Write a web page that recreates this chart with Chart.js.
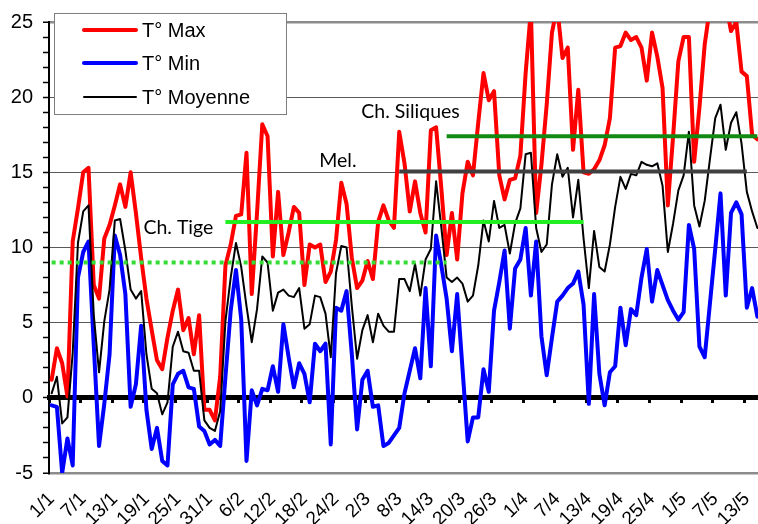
<!DOCTYPE html>
<html>
<head>
<meta charset="utf-8">
<script src="https://cdn.jsdelivr.net/npm/chart.js@4/dist/chart.umd.min.js"></script>
<style>
  html, body { margin: 0; padding: 0; background: #fff; overflow: hidden; }
  #wrap { width: 758px; height: 524px; overflow: hidden; position: relative; }
  canvas { display: block; }
</style>
</head>
<body>
<div id="wrap"><canvas id="c" width="760" height="524"></canvas></div>
<script>
// Daily categories: 1/1 .. 15/5 (non-leap year)
const monthLengths = [31, 28, 31, 30, 31];
const dayCount = 135;
const dayLabels = [];
for (let m = 0; m < monthLengths.length && dayLabels.length < dayCount; m++) {
  for (let d = 1; d <= monthLengths[m] && dayLabels.length < dayCount; d++) {
    dayLabels.push(d + '/' + (m + 1));
  }
}
const labelEvery = 6;

// Daily maximum temperature (°C)
const tMax = [
  1.2, 3.3, 2.3, 0.1, 10.4, 12.6, 15.0, 15.3, 7.5, 6.6,
  10.6, 11.5, 12.8, 14.2, 12.7, 15.0, 12.3, 9.3, 6.6, 4.5,
  2.5, 1.9, 4.0, 5.8, 7.2, 4.5, 5.3, 2.9, 5.5, -0.8,
  -0.8, -1.5, 1.4, 8.8, 10.2, 12.1, 12.2, 16.3, 6.9, 12.3,
  18.2, 17.4, 9.4, 13.7, 9.5, 11.0, 12.7, 12.3, 7.5, 10.2,
  10.0, 10.2, 7.7, 8.4, 10.5, 14.3, 12.9, 9.3, 7.3, 7.8,
  9.1, 7.9, 11.7, 12.8, 11.8, 11.3, 17.7, 15.6, 12.4, 14.4,
  12.3, 11.0, 17.8, 18.0, 13.9, 9.5, 12.3, 9.2, 13.6, 15.7,
  14.8, 18.3, 21.6, 19.8, 20.4, 14.8, 13.2, 14.5, 14.6, 16.1,
  21.6, 25.8, 12.3, 15.5, 19.5, 24.3, 26.0, 22.6, 23.3, 16.5,
  20.5, 15.0, 14.9, 15.2, 15.8, 16.8, 18.6, 23.3, 23.4, 24.3,
  23.8, 24.0, 23.3, 21.1, 24.3, 22.7, 20.6, 12.8, 17.4, 22.4,
  24.0, 24.0, 15.7, 19.3, 23.5, 26.0, 27.0, 25.4, 26.2, 24.4,
  25.0, 21.7, 21.4, 17.5, 17.2
];

// Daily minimum temperature (°C)
const tMin = [
  -0.5, -0.6, -5.0, -2.7, -4.5, 8.0, 9.7, 10.4, 3.5, -3.2,
  -0.4, 2.9, 10.8, 9.5, 6.9, -0.6, 0.9, 4.8, -0.8, -3.4,
  -2.0, -4.2, -4.5, 0.9, 1.6, 1.8, 0.7, 0.6, -1.9, -2.2,
  -3.1, -2.8, -3.2, 1.4, 5.8, 8.5, 5.2, -4.2, 0.5, -0.5,
  0.6, 0.5, 2.1, 0.4, 4.9, 2.7, 0.7, 2.3, 1.6, -0.3,
  3.6, 3.1, 3.6, -3.1, 6.0, 5.8, 7.1, 2.9, -2.1, 1.2,
  1.8, -0.6, -0.5, -3.2, -3.0, -2.5, -2.0, 0.3, 1.8, 3.3,
  1.3, 7.3, 2.1, 10.8, 8.8, 6.6, 3.1, 6.9, 2.0, -2.9,
  -1.3, -1.3, 1.9, 0.4, 5.8, 7.7, 9.8, 4.6, 8.6, 9.2,
  11.3, 6.8, 10.4, 4.1, 1.5, 4.0, 6.4, 6.8, 7.3, 7.6,
  8.4, 6.2, -0.4, 6.9, 1.6, -0.5, 1.7, 2.1, 6.0, 3.5,
  5.9, 5.5, 8.0, 9.9, 6.4, 8.5, 7.5, 6.5, 5.8, 5.2,
  5.7, 11.5, 9.9, 3.4, 2.7, 6.3, 9.9, 13.6, 6.8, 12.3,
  13.0, 12.2, 6.0, 7.3, 5.4
];

// Daily mean temperature (°C)
const tMoy = [
  0.3, 1.4, -1.7, -1.3, 3.0, 10.3, 12.4, 12.8, 5.5, 1.7,
  5.1, 7.2, 11.8, 11.9, 9.8, 7.2, 6.6, 7.1, 2.9, 0.6,
  0.3, -1.1, -0.3, 3.4, 4.4, 3.1, 3.0, 1.8, 1.8, -1.5,
  -2.0, -2.2, -0.9, 5.1, 8.0, 10.3, 8.7, 6.1, 3.7, 5.9,
  9.4, 9.0, 5.8, 7.0, 7.2, 6.8, 6.7, 7.3, 4.6, 4.9,
  6.8, 6.7, 5.6, 2.7, 8.3, 10.1, 10.0, 6.1, 2.6, 4.5,
  5.5, 3.7, 5.6, 4.8, 4.4, 4.4, 7.9, 7.9, 7.1, 8.9,
  6.8, 9.2, 9.9, 14.4, 11.3, 8.0, 7.7, 8.0, 7.6, 6.4,
  6.8, 8.8, 11.8, 10.4, 13.1, 11.3, 11.5, 9.6, 11.6, 12.6,
  16.2, 16.3, 11.3, 9.7, 10.2, 14.2, 16.2, 14.7, 15.3, 12.0,
  14.5, 10.6, 7.3, 11.1, 8.7, 8.4, 10.2, 12.7, 14.7, 13.9,
  14.9, 14.8, 15.7, 15.5, 15.4, 15.6, 14.1, 9.7, 11.6, 13.8,
  14.8, 17.7, 12.8, 11.4, 13.1, 15.9, 18.6, 19.5, 16.5, 18.3,
  19.0, 16.9, 13.7, 12.4, 11.3
];

// Crop stage reference levels (°C) and the day ranges they span
const phaseNames = ['', 'Ch. Tige', 'Mel.', 'Ch. Siliques'];
const phaseLevel = [9, 11.7, 15.05, 17.4];
const phaseFrom  = [0, 33, 66, 75];
const phaseTo    = [75, 101, 132, 134];

const yMin = -5, yMax = 25, yStep = 5;

// ---- styles ----
const FONT = '"Liberation Sans", Arial, sans-serif';
Chart.defaults.font.family = FONT;
Chart.defaults.color = '#000';

const phaseStyle = [
  { color: '#33dd33', dash: [4, 4] },
  { color: '#22ee22', dash: [], text: { at: 30.7, dy: 11.3, anchor: 'right' } },
  { color: '#404040', dash: [], text: { at: 50.8, dy: 15.8, anchor: 'left' } },
  { color: '#138a13', dash: [], text: { at: 58.8, dy: 19.0, anchor: 'left' } }
];

const phaseDatasets = phaseLevel.map((lvl, k) => ({
  label: phaseNames[k],
  data: dayLabels.map((_, i) => (i >= phaseFrom[k] && i <= phaseTo[k]) ? lvl : null),
  borderColor: phaseStyle[k].color,
  borderWidth: 4,
  borderDash: phaseStyle[k].dash,
  borderCapStyle: 'butt',
  pointRadius: 0,
  spanGaps: false,
  order: 0
}));

const seriesDatasets = [
  { label: 'T° Max', data: tMax, borderColor: '#ff0000', borderWidth: 4, order: 3 },
  { label: 'T° Min', data: tMin, borderColor: '#0000ff', borderWidth: 4, order: 2 },
  { label: 'T° Moyenne', data: tMoy, borderColor: '#000000', borderWidth: 2, order: 1 }
].map(d => Object.assign(d, {
  pointRadius: 0, tension: 0, borderJoinStyle: 'round', borderCapStyle: 'round', clip: 0
}));

// Framed legend inside the plot, top-left
const legendBox = {
  id: 'legendBox',
  afterDatasetsDraw(chart) {
    const ctx = chart.ctx;
    const left = 54, top = 13, w = 232, h = 101;
    ctx.save();
    ctx.fillStyle = '#ffffff';
    ctx.fillRect(left, top, w, h);
    ctx.strokeStyle = '#7f7f7f';
    ctx.lineWidth = 1;
    ctx.strokeRect(left + 0.5, top + 0.5, w, h);
    const rowsY = [30, 63, 97];
    seriesDatasets.forEach((ds, i) => {
      const y = rowsY[i];
      ctx.beginPath();
      ctx.strokeStyle = ds.borderColor;
      ctx.lineWidth = ds.borderWidth;
      ctx.lineCap = 'round';
      ctx.moveTo(84, y);
      ctx.lineTo(136, y);
      ctx.stroke();
      ctx.fillStyle = '#000';
      ctx.font = '20px ' + FONT;
      ctx.textAlign = 'left';
      ctx.textBaseline = 'middle';
      ctx.fillText(ds.label, 142, y + 1);
    });
    ctx.restore();
  }
};

// Stage names written next to their reference lines
const phaseText = {
  id: 'phaseText',
  afterDatasetsDraw(chart) {
    const ctx = chart.ctx;
    const xs = chart.scales.x, ys = chart.scales.y;
    ctx.save();
    ctx.fillStyle = '#000';
    ctx.font = '19.5px Lato, "Open Sans", sans-serif';
    ctx.textBaseline = 'middle';
    phaseStyle.forEach((st, k) => {
      if (!st.text || !phaseNames[k]) return;
      ctx.textAlign = st.text.anchor;
      ctx.fillText(phaseNames[k], xs.getPixelForValue(st.text.at), ys.getPixelForValue(st.text.dy));
    });
    ctx.restore();
  }
};

new Chart(document.getElementById('c'), {
  type: 'line',
  data: { labels: dayLabels, datasets: [...phaseDatasets, ...seriesDatasets] },
  options: {
    responsive: false,
    animation: false,
    devicePixelRatio: 1,
    layout: { padding: { top: 17, left: 0, right: 0, bottom: 0 } },
    plugins: { legend: { display: false }, tooltip: { enabled: false } },
    scales: {
      x: {
        type: 'category',
        offset: true,
        position: 'bottom',
        grid: { display: false, drawTicks: false },
        border: { display: false },
        ticks: {
          autoSkip: false, minRotation: 45, maxRotation: 45, padding: 15,
          color: '#000', font: { family: FONT, size: 19 },
          callback: (v, i) => (i % labelEvery === 0 ? dayLabels[i] : '')
        },
        afterFit: s => { s.height = 51; s.paddingLeft = 0; s.paddingRight = 0; }
      },
      xZero: {
        type: 'category',
        axis: 'x',
        offset: true,
        position: { y: 0 },
        grid: {
          offset: true, drawOnChartArea: false, drawTicks: true,
          tickLength: 3, tickWidth: 3,
          tickColor: c => (c.index % labelEvery === 0 ? '#000' : 'rgba(0,0,0,0)')
        },
        border: { display: true, color: '#000', width: 5 },
        ticks: { display: false, autoSkip: false },
        afterFit: s => { s.paddingLeft = 0; s.paddingRight = 0; }
      },
      y: {
        min: yMin, max: yMax,
        position: 'left',
        ticks: {
          stepSize: 1, autoSkip: false, padding: 10,
          color: '#000', font: { family: FONT, size: 20 },
          callback: v => (v % yStep === 0 ? v : '')
        },
        grid: {
          color: c => {
            const v = c.tick.value;
            if (v === yMin || v === yMax) return '#8c8c8c';
            return v % yStep === 0 ? '#595959' : 'rgba(0,0,0,0)';
          },
          lineWidth: c => {
            const v = c.tick.value;
            return (v === yMin || v === yMax) ? 2.5 : 1;
          },
          tickColor: '#000', tickLength: 6, tickWidth: 1.5
        },
        border: { color: '#000', width: 2 },
        afterFit: s => { s.width = 49; }
      }
    }
  },
  plugins: [legendBox, phaseText]
});
</script>
</body>
</html>
